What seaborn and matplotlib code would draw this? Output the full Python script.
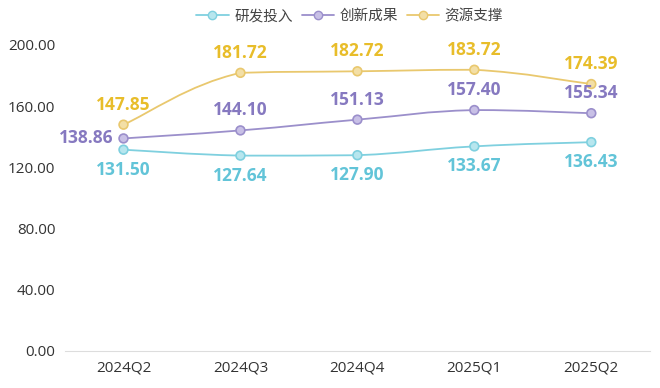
import numpy as np
import pandas as pd
import matplotlib
matplotlib.use('Agg')
import matplotlib.pyplot as plt
from matplotlib.path import Path
from matplotlib.patches import PathPatch
from matplotlib.lines import Line2D
import seaborn as sns

# ── data ────────────────────────────────────────────────
quarters = ['2024Q2', '2024Q3', '2024Q4', '2025Q1', '2025Q2']
rd_input = [131.50, 127.64, 127.90, 133.67, 136.43]
innovation = [138.86, 144.10, 151.13, 157.40, 155.34]
resources = [147.85, 181.72, 182.72, 183.72, 174.39]
series_names = ['研发投入', '创新成果', '资源支撑']
yticks = [0, 40, 80, 120, 160, 200]

colors = {'研发投入': '#7fd0df', '创新成果': '#9b8fcb', '资源支撑': '#e9c86e'}
label_colors = {'研发投入': '#62c4d8', '创新成果': '#8679c0', '资源支撑': '#e8bd2a'}
face_colors = {'研发投入': '#b7e6ee', '创新成果': '#c8c0e6', '资源支撑': '#f3dfa6'}

df = pd.DataFrame({'quarter': quarters * 3,
                   'series': np.repeat(series_names, len(quarters)),
                   'value': rd_input + innovation + resources})
df['x'] = np.tile(np.arange(len(quarters)), 3)

sns.set_style('white')
plt.rcParams['font.family'] = ['Open Sans', 'Noto Sans CJK SC', 'DejaVu Sans']

fig = plt.figure(figsize=(6.6, 3.88), dpi=100)
ax = fig.add_axes([0.0985, 0.0954, 0.886, 0.789])


def smooth_path(xs, ys, s=0.45):
    # cubic bezier through the points, control points clamped (echarts-like smooth)
    verts = [(xs[0], ys[0])]
    codes = [Path.MOVETO]
    n = len(xs)
    for i in range(n - 1):
        x0, y0 = xs[max(i - 1, 0)], ys[max(i - 1, 0)]
        x1, y1 = xs[i], ys[i]
        x2, y2 = xs[i + 1], ys[i + 1]
        x3, y3 = xs[min(i + 2, n - 1)], ys[min(i + 2, n - 1)]
        lo, hi = min(y1, y2), max(y1, y2)
        c1 = (x1 + (x2 - x0) * s / 2, np.clip(y1 + (y2 - y0) * s / 2, lo, hi))
        c2 = (x2 - (x3 - x1) * s / 2, np.clip(y2 - (y3 - y1) * s / 2, lo, hi))
        verts += [c1, c2, (x2, y2)]
        codes += [Path.CURVE4] * 3
    return Path(verts, codes)


for name in series_names:
    sub = df[df['series'] == name]
    p = smooth_path(sub['x'].tolist(), sub['value'].tolist())
    ax.add_patch(PathPatch(p, facecolor='none', edgecolor=colors[name], lw=1.3, zorder=2))

sns.scatterplot(data=df, x='x', y='value', hue='series', palette=face_colors,
                s=40, edgecolor=df['series'].map(colors), linewidth=1.2,
                legend=False, ax=ax, zorder=3)

# data labels
for name in series_names:
    sub = df[df['series'] == name]
    for i, (xv, yv) in enumerate(zip(sub['x'], sub['value'])):
        if name == '研发投入':
            off, ha, va = (0, -8), 'center', 'top'
        elif name == '创新成果' and i == 0:
            off, ha, va = (-7, 0), 'right', 'center'
        else:
            off, ha, va = (0, 8), 'center', 'bottom'
        ax.annotate(f'{yv:.2f}', (xv, yv), xytext=off, textcoords='offset points',
                    ha=ha, va=va, fontsize=12.5, fontweight='bold',
                    color=label_colors[name], zorder=4)

ax.set_xlim(-0.5, len(quarters) - 0.5)
ax.set_ylim(0, 200)
ax.set_xticks(range(len(quarters)))
ax.set_xticklabels(quarters)
ax.set_yticks(yticks)
ax.set_yticklabels([f'{t:.2f}' for t in yticks])
ax.tick_params(axis='both', length=0, labelsize=11, colors='#333333')
ax.tick_params(axis='x', pad=7)
ax.tick_params(axis='y', pad=7)
ax.set_xlabel('')
ax.set_ylabel('')
for side in ['top', 'right', 'left']:
    ax.spines[side].set_visible(False)
ax.spines['bottom'].set_color('#dddddd')
ax.grid(False)

handles = [Line2D([0], [0], color=colors[n], lw=1.3, marker='o', markersize=6,
                  markerfacecolor=face_colors[n], markeredgecolor=colors[n])
           for n in series_names]
fig.legend(handles, series_names, loc='upper center', bbox_to_anchor=(0.53, 1.01),
           ncol=3, frameon=False, fontsize=10.5, handlelength=2.2, handletextpad=0.4,
           columnspacing=0.6, labelcolor='#444444')

fig.savefig('out.png', dpi=100)
